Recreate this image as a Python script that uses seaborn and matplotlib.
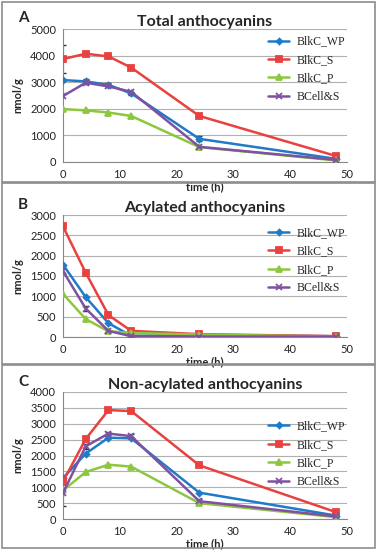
import numpy as np
import pandas as pd
import matplotlib
matplotlib.use("Agg")
import matplotlib.pyplot as plt
import matplotlib.patches as mpatches
import seaborn as sns

# ─── Datos ────────────────────────────────────────────────────────────────
TIEMPOS = [0, 4, 8, 12, 24, 48]
SERIES = ["BlkC_WP", "BlkC_S", "BlkC_P", "BCell&S"]

TOTAL_WP = [3080, 3030, 2900, 2580, 870, 120]
TOTAL_S = [3870, 4070, 3970, 3550, 1730, 230]
TOTAL_P = [1990, 1940, 1860, 1730, 560, 60]
TOTAL_BC = [2480, 2980, 2840, 2640, 570, 80]

ACIL_WP = [1780, 980, 340, 30, 50, 20]
ACIL_S = [2720, 1580, 540, 150, 70, 20]
ACIL_P = [1060, 440, 140, 100, 60, 10]
ACIL_BC = [1620, 700, 150, 20, 10, 10]

NOACIL_WP = [1290, 2060, 2560, 2540, 830, 110]
NOACIL_S = [1180, 2520, 3430, 3400, 1690, 220]
NOACIL_P = [900, 1480, 1710, 1650, 500, 60]
NOACIL_BC = [820, 2290, 2690, 2610, 560, 80]

# errores (solo los visibles)
ERR_TOTAL_S = [520, 60, 60, 60, 60, 60]
ERR_TOTAL_WP = [40, 80, 60, 60, 90, 30]
ERR_ACIL_BC = [80, 60, 30, 10, 10, 10]
ERR_NOACIL_BC = [400, 80, 60, 60, 80, 30]

COLORES = {"BlkC_WP": "#1f7bc8", "BlkC_S": "#e8413f",
           "BlkC_P": "#8dc63f", "BCell&S": "#7e52a0"}
MARCADORES = {"BlkC_WP": "D", "BlkC_S": "s", "BlkC_P": "^", "BCell&S": "x"}
TAMANOS = {"BlkC_WP": 3, "BlkC_S": 5, "BlkC_P": 5, "BCell&S": 5}

PANELES = [
    ("A", "Total anthocyanins", [TOTAL_WP, TOTAL_S, TOTAL_P, TOTAL_BC],
     5000, 1000, [(29, 162)], {"BlkC_S": ERR_TOTAL_S, "BlkC_WP": ERR_TOTAL_WP}),
    ("B", "Acylated anthocyanins", [ACIL_WP, ACIL_S, ACIL_P, ACIL_BC],
     3000, 500, [(215, 337)], {"BCell&S": ERR_ACIL_BC}),
    ("C", "Non-acylated anthocyanins", [NOACIL_WP, NOACIL_S, NOACIL_P, NOACIL_BC],
     4000, 500, [(392, 519)], {"BCell&S": ERR_NOACIL_BC}),
]
CAJAS = [(2, 182), (183, 364), (365, 548)]
LEYENDA_Y = [1.03, 0.99, 0.86]

W, H = 378, 550
sns.set_theme(style="white")
plt.rcParams["font.family"] = ["Lato", "DejaVu Sans"]

fig = plt.figure(figsize=(W / 100, H / 100), dpi=100)

for (top, bot) in CAJAS:
    fig.patches.append(mpatches.Rectangle(
        (2 / W, 1 - bot / H), 373 / W, (bot - top) / H,
        transform=fig.transFigure, fill=False, edgecolor="#8c8c8c", lw=1.2))

for i, (letra, titulo, valores, ymax, paso, pos, errores) in enumerate(PANELES):
    top, bot = pos[0]
    ax = fig.add_axes([63 / W, 1 - bot / H, 284 / W, (bot - top) / H])
    df = pd.DataFrame({
        "t": TIEMPOS * 4,
        "v": sum(valores, []),
        "serie": np.repeat(SERIES, len(TIEMPOS)),
    })
    for s in SERIES:
        sub = df[df.serie == s]
        if s in errores:
            ax.errorbar(sub.t, sub.v, yerr=errores[s], fmt="none",
                        ecolor="#333333", elinewidth=0.8, capsize=2, zorder=2)
        sns.lineplot(data=sub, x="t", y="v", ax=ax, color=COLORES[s],
                     marker=MARCADORES[s], markersize=TAMANOS[s],
                     markeredgecolor=COLORES[s], markeredgewidth=1.3,
                     linewidth=1.8, label=s, zorder=3)
    ax.set_xlim(0, 50)
    ax.set_ylim(0, ymax)
    ax.set_xticks(range(0, 51, 10))
    ax.set_yticks(range(0, ymax + 1, paso))
    ax.yaxis.grid(True, color="#b0b0b0", lw=0.8)
    ax.xaxis.grid(False)
    for lado in ["top", "right"]:
        ax.spines[lado].set_visible(False)
    for lado in ["left", "bottom"]:
        ax.spines[lado].set_color("#888888")
        ax.spines[lado].set_linewidth(0.8)
    ax.tick_params(axis="both", labelsize=8, length=0, pad=5,
                   colors="#222222")
    ax.set_xlabel("time (h)", fontsize=8, fontweight="bold", labelpad=1)
    ax.set_ylabel("nmol/g", fontsize=8, fontweight="bold", labelpad=5)
    ax.set_title(titulo, fontsize=11.5, fontweight="bold", pad=2)
    ax.text(-0.14, 1.08, letra, transform=ax.transAxes, fontsize=11,
            fontweight="bold", va="center", ha="center")
    ax.legend(loc="upper right", bbox_to_anchor=(1.03, LEYENDA_Y[i]),
              frameon=False, prop={"family": "Liberation Serif", "size": 8.5},
              handlelength=1.8, labelspacing=0.55, handletextpad=0.6)

fig.savefig("out.png", dpi=100)
